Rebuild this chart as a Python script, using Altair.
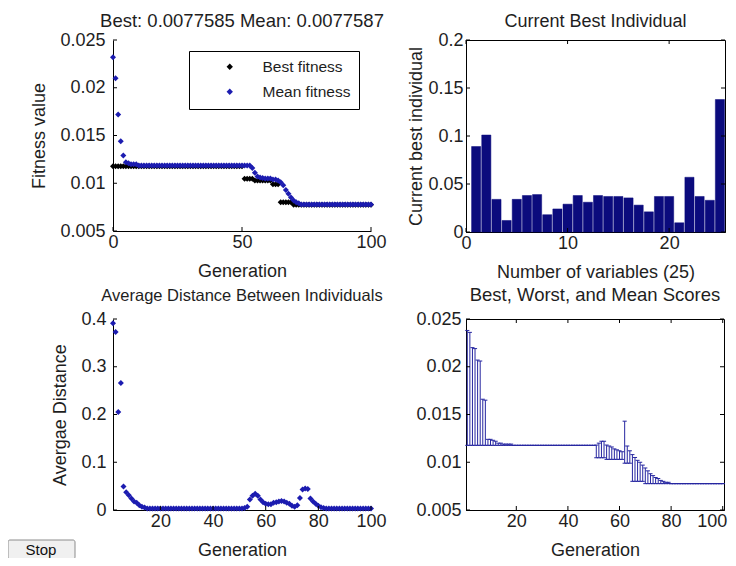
import altair as alt
import pandas as pd

# ---------------- data ----------------
generations = list(range(0, 101))
best_fitness = [
    0.01177, 0.01177, 0.01177, 0.01177, 0.01177, 0.01177, 0.01177, 0.01177, 0.01177, 0.01177,
    0.01177, 0.01177, 0.01177, 0.01177, 0.01177, 0.01177, 0.01177, 0.01177, 0.01177, 0.01177,
    0.01177, 0.01177, 0.01177, 0.01177, 0.01177, 0.01177, 0.01177, 0.01177, 0.01177, 0.01177,
    0.01177, 0.01177, 0.01177, 0.01177, 0.01177, 0.01177, 0.01177, 0.01177, 0.01177, 0.01177,
    0.01177, 0.01177, 0.01177, 0.01177, 0.01177, 0.01177, 0.01177, 0.01177, 0.01177, 0.01177,
    0.01177, 0.01047, 0.01047, 0.01047, 0.01047, 0.01030, 0.01030, 0.01030, 0.01030, 0.01030,
    0.01030, 0.01030, 0.00990, 0.00990, 0.00990, 0.00800, 0.00800, 0.00800, 0.00800, 0.00800,
    0.00776, 0.00776, 0.00776, 0.00776, 0.00776, 0.00776, 0.00776, 0.00776, 0.00776, 0.00776,
    0.00776, 0.00776, 0.00776, 0.00776, 0.00776, 0.00776, 0.00776, 0.00776, 0.00776, 0.00776,
    0.00776, 0.00776, 0.00776, 0.00776, 0.00776, 0.00776, 0.00776, 0.00776, 0.00776, 0.00776,
    0.00776,
]
mean_fitness = [
    0.0232, 0.0210, 0.0172, 0.0144, 0.0129, 0.0122, 0.0121, 0.0120, 0.0120, 0.0120,
    0.01187, 0.01187, 0.01187, 0.01187, 0.01187, 0.01187, 0.01187, 0.01187, 0.01187, 0.01187,
    0.01187, 0.01187, 0.01187, 0.01187, 0.01187, 0.01187, 0.01187, 0.01187, 0.01187, 0.01187,
    0.01187, 0.01187, 0.01187, 0.01187, 0.01187, 0.01187, 0.01187, 0.01187, 0.01187, 0.01187,
    0.01187, 0.01187, 0.01187, 0.01187, 0.01187, 0.01187, 0.01187, 0.01187, 0.01187, 0.01187,
    0.01187, 0.01187, 0.01187, 0.01185, 0.0116, 0.0111, 0.0107, 0.0106, 0.01055, 0.0105,
    0.0105, 0.0105, 0.0104, 0.0104, 0.0103, 0.0101, 0.0098, 0.0093, 0.0089, 0.0085,
    0.0082, 0.0080, 0.0079, 0.00778, 0.00778, 0.00778, 0.00778, 0.00778, 0.00778, 0.00778,
    0.00778, 0.00778, 0.00778, 0.00778, 0.00778, 0.00778, 0.00778, 0.00778, 0.00778, 0.00778,
    0.00778, 0.00778, 0.00778, 0.00778, 0.00778, 0.00778, 0.00778, 0.00778, 0.00778, 0.00778,
    0.00778,
]

variables = list(range(1, 26))
best_individual = [
    0.089, 0.101, 0.034, 0.012, 0.034, 0.038, 0.039, 0.018, 0.024, 0.029,
    0.038, 0.031, 0.038, 0.037, 0.037, 0.0355, 0.028, 0.021, 0.037, 0.037,
    0.0096, 0.057, 0.037, 0.033, 0.138,
]

distance_generations = list(range(2, 101))
average_distance = [
    0.391, 0.373, 0.205, 0.266, 0.049, 0.037, 0.031, 0.024, 0.018, 0.015,
    0.010, 0.007, 0.005,
    0.003, 0.003, 0.003, 0.003, 0.003, 0.003, 0.003, 0.003, 0.003, 0.003,
    0.003, 0.003, 0.003, 0.003, 0.003, 0.003, 0.003, 0.003, 0.003, 0.003,
    0.003, 0.003, 0.003, 0.003, 0.003, 0.003, 0.003, 0.003, 0.003, 0.003,
    0.003, 0.003, 0.003, 0.003, 0.003, 0.003, 0.003,
    0.004, 0.007, 0.022, 0.030, 0.034, 0.030, 0.022, 0.016, 0.013, 0.012,
    0.012, 0.015, 0.016, 0.018, 0.019, 0.018, 0.015, 0.013, 0.009, 0.007,
    0.010, 0.025, 0.043, 0.045, 0.044, 0.024, 0.018, 0.013, 0.009, 0.006, 0.004,
    0.003, 0.003, 0.003, 0.003, 0.003, 0.003, 0.003, 0.003, 0.003,
    0.003, 0.003, 0.003, 0.003, 0.003, 0.003, 0.003, 0.003, 0.003,
]

score_generations = list(range(1, 101))
worst_score = [
    0.0238, 0.0236, 0.0220, 0.0219, 0.0207, 0.0206, 0.0166, 0.0165, 0.0124, 0.0124,
    0.0123, 0.0122, 0.0120, 0.0120, 0.0119, 0.0119, 0.0119, 0.0119,
    0.01177, 0.01177, 0.01177, 0.01177, 0.01177, 0.01177, 0.01177, 0.01177,
    0.01177, 0.01177, 0.01177, 0.01177, 0.01177, 0.01177, 0.01177, 0.01177,
    0.01177, 0.01177, 0.01177, 0.01177, 0.01177, 0.01177, 0.01177, 0.01177,
    0.01177, 0.01177, 0.01177, 0.01177, 0.01177, 0.01177, 0.01177, 0.01177,
    0.0118, 0.0120, 0.0122, 0.0122, 0.0118, 0.0117, 0.0116, 0.0114, 0.0113, 0.0112,
    0.0111, 0.0143, 0.0117, 0.0112, 0.0108, 0.0105, 0.0102, 0.0100, 0.0097, 0.0094,
    0.0091, 0.0088, 0.0086, 0.0084, 0.0083, 0.0081, 0.0080, 0.0079, 0.0079,
    0.00776, 0.00776, 0.00776, 0.00776, 0.00776, 0.00776, 0.00776, 0.00776, 0.00776, 0.00776,
    0.00776, 0.00776, 0.00776, 0.00776, 0.00776, 0.00776, 0.00776, 0.00776, 0.00776, 0.00776,
    0.00776,
]
best_score = best_fitness[1:]

# tick values
fitness_xticks = [0, 50, 100]
fitness_yticks = [0.005, 0.01, 0.015, 0.02, 0.025]
bar_xticks = [0, 10, 20]
bar_yticks = [0, 0.05, 0.1, 0.15, 0.2]
dist_xticks = [20, 40, 60, 80, 100]
dist_yticks = [0, 0.1, 0.2, 0.3, 0.4]
score_xticks = [20, 40, 60, 80, 100]
score_yticks = [0.005, 0.01, 0.015, 0.02, 0.025]

# ---------------- style ----------------
FONT = "Liberation Sans"
TEXT = "#1e1e1e"
BLUE = "#1c1cb0"
NAVY = "#0b0b7d"
BAR_BLUE = "#2626a0"
W, H = 258, 191
TL = 4  # inward tick length


def tick_layers(xfield, xvals, xscale, yfield, yvals, yscale, w, h, box):
    xdf = pd.DataFrame({xfield: xvals})
    ydf = pd.DataFrame({yfield: yvals})
    layers = [
        alt.Chart(xdf).mark_rule(color="black", strokeWidth=1).encode(
            x=alt.X(f"{xfield}:Q", scale=xscale), y=alt.value(h), y2=alt.value(h - TL)),
        alt.Chart(ydf).mark_rule(color="black", strokeWidth=1).encode(
            y=alt.Y(f"{yfield}:Q", scale=yscale), x=alt.value(0), x2=alt.value(TL)),
    ]
    if box:
        layers += [
            alt.Chart(xdf).mark_rule(color="black", strokeWidth=1).encode(
                x=alt.X(f"{xfield}:Q", scale=xscale), y=alt.value(0), y2=alt.value(TL)),
            alt.Chart(ydf).mark_rule(color="black", strokeWidth=1).encode(
                y=alt.Y(f"{yfield}:Q", scale=yscale), x=alt.value(w - TL), x2=alt.value(w)),
        ]
    return layers


fit_df = pd.DataFrame({
    "generation": generations + generations,
    "value": best_fitness + mean_fitness,
    "series": ["Best fitness"] * len(generations) + ["Mean fitness"] * len(generations),
})
bar_df = pd.DataFrame({"variable": variables, "value": best_individual})
dist_df = pd.DataFrame({"generation": distance_generations, "distance": average_distance})
score_df = pd.DataFrame({"generation": score_generations, "best": best_score, "worst": worst_score})
button_df = pd.DataFrame({"label": ["Stop"]})

# ---------- panel 1 ----------
xs1 = alt.Scale(domain=[0, 100], nice=False, zero=False)
ys1 = alt.Scale(domain=[0.005, 0.025], nice=False, zero=False)
fit_pts = alt.Chart(fit_df).mark_point(shape="diamond", filled=True, size=36, opacity=1).encode(
    x=alt.X("generation:Q", scale=xs1,
            axis=alt.Axis(values=fitness_xticks, title="Generation", labelPadding=2, titlePadding=11)),
    y=alt.Y("value:Q", scale=ys1,
            axis=alt.Axis(values=fitness_yticks, format="~g",
                          title="Fitness value", labelPadding=8, titlePadding=11.5)),
    color=alt.Color("series:N",
                    scale=alt.Scale(domain=["Best fitness", "Mean fitness"], range=["#000000", BLUE]),
                    legend=alt.Legend(title=None, orient="none", legendX=76, legendY=11,
                                      strokeColor="black", fillColor="white", padding=8,
                                      symbolType="diamond", symbolSize=40, symbolOffset=25,
                                      labelFontSize=15.5, labelOffset=25, rowPadding=8,
                                      labelFont=FONT, labelColor=TEXT)),
)
p1 = alt.layer(
    fit_pts, *tick_layers("generation", fitness_xticks, xs1, "value", fitness_yticks, ys1, W, H, False)
).properties(
    width=W, height=H,
    title=alt.TitleParams("Best: 0.0077585 Mean: 0.0077587", fontSize=18.5, offset=0.5),
)

# ---------- panel 2 ----------
xs2 = alt.Scale(domain=[0, 25.5], nice=False, zero=False)
ys2 = alt.Scale(domain=[0, 0.2], nice=False)
bars = alt.Chart(bar_df).transform_calculate(
    x0="datum.variable - 0.45", x1="datum.variable + 0.45"
).mark_bar(color=NAVY, stroke=NAVY, strokeWidth=0.5).encode(
    x=alt.X("x0:Q", scale=xs2,
            axis=alt.Axis(values=bar_xticks, title="Number of variables (25)", labelPadding=2, titlePadding=11)),
    x2="x1:Q",
    y=alt.Y("value:Q", scale=ys2,
            axis=alt.Axis(values=bar_yticks, format="~g",
                          title="Current best individual", labelPadding=3, titlePadding=2)),
    y2=alt.datum(0),
)
p2 = alt.layer(
    bars, *tick_layers("x0", bar_xticks, xs2, "value", bar_yticks, ys2, W + 1, H + 1, True)
).properties(
    width=W + 1, height=H + 1,
    title=alt.TitleParams("Current Best Individual", fontSize=18, offset=0.5),
    view=alt.ViewBackground(stroke="black", strokeWidth=1),
)

# ---------- panel 3 ----------
xs3 = alt.Scale(domain=[2, 100], nice=False, zero=False)
ys3 = alt.Scale(domain=[0, 0.4], nice=False)
dist_pts = alt.Chart(dist_df).mark_point(shape="diamond", filled=True, size=36, opacity=1, color=BLUE).encode(
    x=alt.X("generation:Q", scale=xs3,
            axis=alt.Axis(values=dist_xticks, title="Generation", labelPadding=2, titlePadding=11)),
    y=alt.Y("distance:Q", scale=ys3,
            axis=alt.Axis(values=dist_yticks, format="~g",
                          title="Avergae Distance", labelPadding=7, titlePadding=11)),
)
button_box = alt.Chart(button_df).mark_rect(fill="#f0f0f0", stroke="#8c8c8c", strokeWidth=1, cornerRadius=2).encode(
    x=alt.value(-105), x2=alt.value(-38), y=alt.value(221), y2=alt.value(240),
)
button_text = alt.Chart(button_df).mark_text(font=FONT, fontSize=15, color="#111111", align="center", baseline="alphabetic").encode(
    x=alt.value(-72), y=alt.value(236), text="label:N",
)
p3 = alt.layer(
    dist_pts, *tick_layers("generation", dist_xticks, xs3, "distance", dist_yticks, ys3, W, H, False),
    button_box, button_text,
).properties(
    width=W, height=H,
    title=alt.TitleParams("Average Distance Between Individuals", fontSize=16.5, offset=5.5),
)

# ---------- panel 4 ----------
score_base = alt.Chart(score_df).transform_calculate(
    left="datum.generation - 0.8", right="datum.generation + 0.8"
)
xs4 = alt.Scale(domain=[0.5, 100.5], nice=False, zero=False)
ys4 = alt.Scale(domain=[0.005, 0.025], nice=False, zero=False)
x4_axis = alt.Axis(values=score_xticks, title="Generation", labelPadding=2, titlePadding=11,
                   labelFlush=2, labelFlushOffset=4)
y4_axis = alt.Axis(values=score_yticks, format="~g", title=None, labelPadding=5)
vert = score_base.mark_rule(color=BAR_BLUE, strokeWidth=1).encode(
    x=alt.X("generation:Q", scale=xs4, axis=x4_axis),
    y=alt.Y("best:Q", scale=ys4, axis=y4_axis),
    y2="worst:Q",
)
topcap = score_base.mark_rule(color=BAR_BLUE, strokeWidth=1).encode(
    x=alt.X("left:Q", scale=xs4), x2="right:Q", y=alt.Y("worst:Q", scale=ys4),
)
botcap = score_base.mark_rule(color=BAR_BLUE, strokeWidth=1).encode(
    x=alt.X("left:Q", scale=xs4), x2="right:Q", y=alt.Y("best:Q", scale=ys4),
)
p4 = alt.layer(
    vert, topcap, botcap,
    *tick_layers("generation", score_xticks, xs4, "best", score_yticks, ys4, W, H, True)
).properties(
    width=W, height=H,
    title=alt.TitleParams("Best, Worst, and Mean Scores", fontSize=18.5, offset=5.5),
    view=alt.ViewBackground(stroke="black", strokeWidth=1),
)

chart = alt.concat(
    p1, p2, p3, p4, columns=2, spacing={"row": 87, "column": 95}, bounds="flush"
).properties(
    autosize=alt.AutoSizeParams(type="none"),
    padding={"left": 105, "top": 32, "right": 615, "bottom": 518},
    background="white",
).configure(
    font=FONT,
).configure_view(
    stroke=None,
).configure_axis(
    domainColor="black", domainWidth=1, grid=False, ticks=False,
    labelFont=FONT, labelFontSize=18, labelColor=TEXT, labelFlush=False,
    titleFont=FONT, titleFontSize=18, titleFontWeight="normal", titleColor=TEXT,
).configure_title(
    font=FONT, fontWeight="normal", color=TEXT, anchor="middle",
)

chart.save("out.html", embed_options={"renderer": "svg", "actions": False})
